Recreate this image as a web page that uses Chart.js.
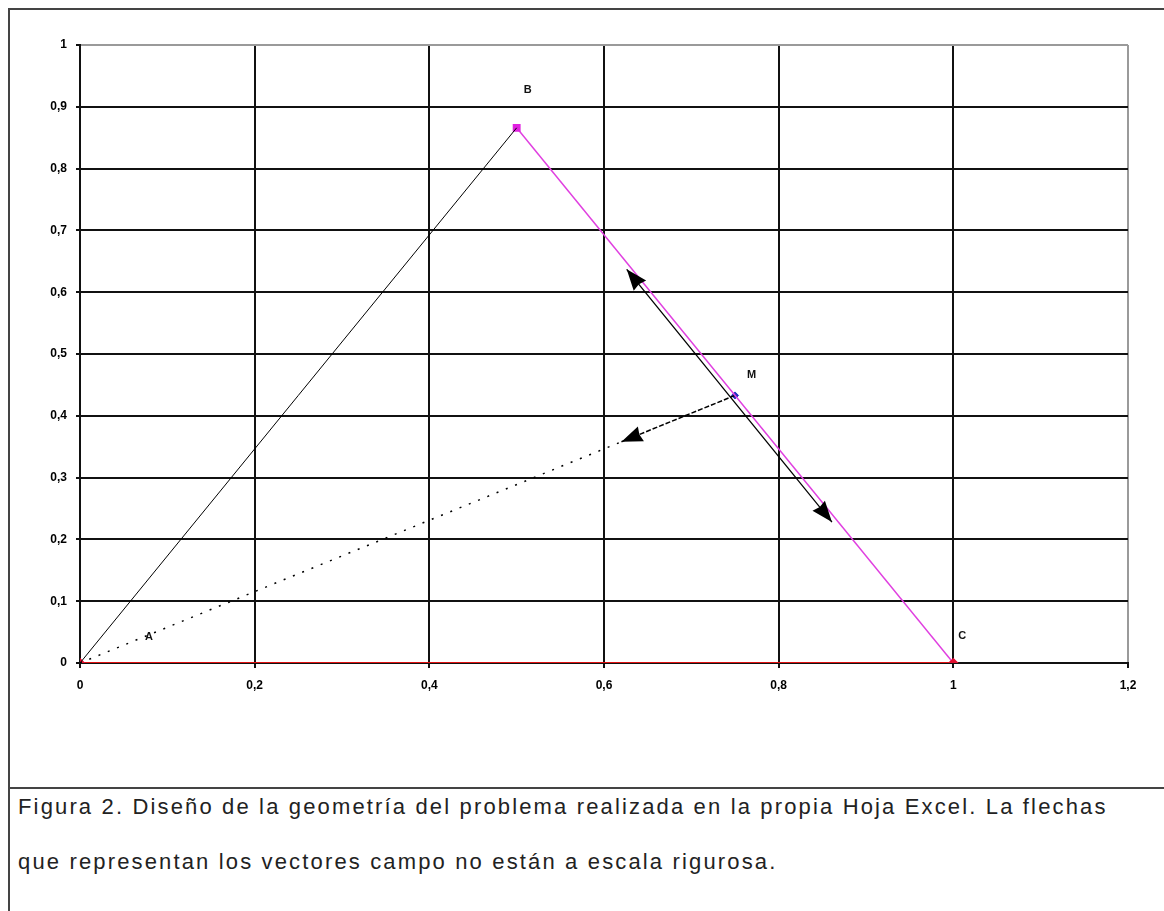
<!DOCTYPE html>
<html lang="es">
<head>
	<meta charset="UTF-8">
	<title>Figura 2</title>
	<script src="https://cdn.jsdelivr.net/npm/chart.js"></script>
	<style>
		html, body { margin: 0; padding: 0; background: #fff; }
		#page { position: relative; width: 1164px; height: 911px; overflow: hidden; }
		#frame { position: absolute; left: 8px; top: 8px; right: -4px; bottom: -4px; border-top: 2px solid #444; border-left: 2px solid #444; }
		#sep { position: absolute; left: 8px; top: 787px; width: 1160px; height: 0; border-top: 2px solid #444; }
		#chartBox { position: absolute; left: 0; top: 0; width: 1164px; height: 787px; }
		.caption { position: absolute; left: 18px; font-family: "Liberation Sans", Arial, sans-serif; font-size: 22px; letter-spacing: 2.15px; color: #222; white-space: nowrap; }
	</style>
</head>
<body>
<div id="page">
	<div id="frame"></div>
	<div id="chartBox"><canvas id="geomChart" width="1164" height="787"></canvas></div>
	<div id="sep"></div>
	<div class="caption" style="top: 794px">Figura 2. Diseño de la geometría del problema realizada en la propia Hoja Excel. La flechas</div>
	<div class="caption" style="top: 849px">que representan los vectores campo no están a escala rigurosa.</div>
</div>

<script>
// vertices of the triangle: A, B, C
const vertexNames = ['A', 'B', 'C'];
const vertexX = [0, 0.5, 1];
const vertexY = [0, 0.866, 0];

// midpoint M of BC
const pointM = { x: 0.75, y: 0.433 };

// field vector from M pointing towards A (tip of the arrow)
const towardA = { x: 0.62, y: 0.358 };

// vector along BC, arrow at both ends
const alongBCX = [0.626, 0.861];
const alongBCY = [0.637, 0.228];

const xTicks = [0, 0.2, 0.4, 0.6, 0.8, 1, 1.2];
const yTicks = [0, 0.1, 0.2, 0.3, 0.4, 0.5, 0.6, 0.7, 0.8, 0.9, 1];

const fmt = v => String(Math.round(v * 10) / 10).replace('.', ',');
const pt = i => ({ x: vertexX[i], y: vertexY[i] });

// arrowheads at the ends of a dataset line
const arrowPlugin = {
	id: 'arrows',
	afterDatasetsDraw(chart) {
		const ctx = chart.ctx;
		chart.data.datasets.forEach((ds, i) => {
			const pts = chart.getDatasetMeta(i).data;
			const head = (tip, from) => {
				const a = Math.atan2(tip.y - from.y, tip.x - from.x);
				const len = 21, half = 8;
				ctx.save();
				ctx.translate(tip.x, tip.y);
				ctx.rotate(a);
				ctx.beginPath();
				ctx.moveTo(0, 0);
				ctx.lineTo(-len, -half);
				ctx.lineTo(-len * 0.92, 0);
				ctx.lineTo(-len, half);
				ctx.closePath();
				ctx.fillStyle = '#000';
				ctx.fill();
				ctx.restore();
			};
			if (ds.arrowEnd) head(pts[pts.length - 1], pts[pts.length - 2]);
			if (ds.arrowStart) head(pts[0], pts[1]);
		});
	}
};

// point names next to the vertices
const namePlugin = {
	id: 'names',
	afterDatasetsDraw(chart) {
		const ctx = chart.ctx;
		const xs = chart.scales.x, ys = chart.scales.y;
		const names = vertexNames.map((n, i) => ({ n, x: vertexX[i], y: vertexY[i] }));
		names.push({ n: 'M', x: pointM.x, y: pointM.y });
		const offs = { A: [65, -26], B: [7, -38], C: [5, -27], M: [12, -20] };
		ctx.save();
		ctx.font = 'bold 11px "Liberation Sans", Arial, sans-serif';
		ctx.fillStyle = '#111';
		ctx.textBaseline = 'middle';
		names.forEach(p => {
			const o = offs[p.n];
			ctx.fillText(p.n, xs.getPixelForValue(p.x) + o[0], ys.getPixelForValue(p.y) + o[1]);
		});
		ctx.restore();
	}
};

const gridColor = (last) => c => (c.tick && Math.abs(c.tick.value - last) < 1e-6) ? '#9a9a9a' : '#111';
const tickFont = { family: '"Liberation Sans", Arial, sans-serif', size: 12, weight: 'bold' };

new Chart(document.getElementById('geomChart'), {
	type: 'scatter',
	data: {
		datasets: [
			{ // dotted line from A towards the field arrow
				data: [pt(0), towardA],
				showLine: true, borderColor: '#000', borderWidth: 1.5, borderDash: [2, 8], pointRadius: 0
			},
			{ // AB
				data: [pt(0), pt(1)],
				showLine: true, borderColor: '#000', borderWidth: 1, pointRadius: 0
			},
			{ // AC
				data: [pt(0), pt(2)],
				showLine: true, borderColor: '#e01010', borderWidth: 1.8,
				pointRadius: 4, pointStyle: 'rectRot', pointBackgroundColor: '#e01030', pointBorderColor: '#e01030'
			},
			{ // BC
				data: [pt(1), pt(2)],
				showLine: true, borderColor: '#e040e0', borderWidth: 1.5,
				pointRadius: [4.5, 0], pointStyle: 'rect', pointBackgroundColor: '#e020e0', pointBorderColor: '#e020e0'
			},
			{ // along BC, both ways
				data: [{ x: alongBCX[0], y: alongBCY[0] }, { x: alongBCX[1], y: alongBCY[1] }],
				showLine: true, borderColor: '#000', borderWidth: 1.3, pointRadius: 0,
				arrowStart: true, arrowEnd: true
			},
			{ // M towards A
				data: [pointM, towardA],
				showLine: true, borderColor: '#000', borderWidth: 1.5, borderDash: [5, 2], pointRadius: 0,
				arrowEnd: true
			},
			{ // M
				data: [pointM],
				pointRadius: 3.5, pointStyle: 'rectRot', pointBackgroundColor: '#2030c0', pointBorderColor: '#2030c0'
			}
		]
	},
	options: {
		responsive: false,
		animation: false,
		events: [],
		layout: { padding: { left: 0, top: 45, right: 36, bottom: 0 } },
		plugins: { legend: { display: false }, tooltip: { enabled: false } },
		scales: {
			x: {
				type: 'linear', min: 0, max: 1.2,
				afterBuildTicks: s => { s.ticks = xTicks.map(v => ({ value: v })); },
				afterFit: s => { s.height = 124; },
				grid: { color: gridColor(1.2), lineWidth: 2, tickColor: '#111', tickLength: 5 },
				border: { color: '#111', width: 2 },
				ticks: { callback: fmt, color: '#000', padding: 10, maxRotation: 0, autoSkip: false, font: tickFont }
			},
			y: {
				type: 'linear', min: 0, max: 1,
				afterBuildTicks: s => { s.ticks = yTicks.map(v => ({ value: v })); },
				afterFit: s => { s.width = 80; },
				grid: { color: gridColor(1), lineWidth: 2, tickColor: '#111', tickLength: 4 },
				border: { color: '#111', width: 2 },
				ticks: { callback: fmt, color: '#000', padding: 9, autoSkip: false, font: tickFont }
			}
		}
	},
	plugins: [arrowPlugin, namePlugin]
});
</script>
</body>
</html>
